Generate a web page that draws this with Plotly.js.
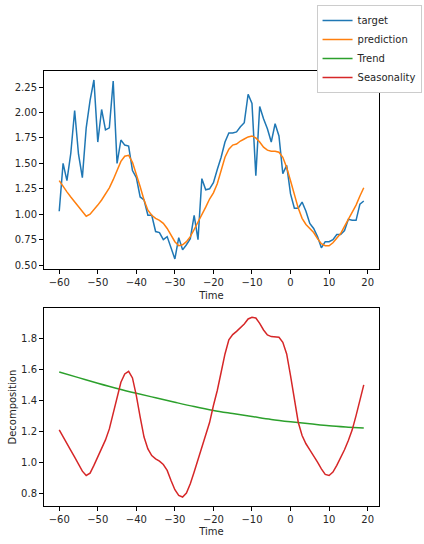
<!DOCTYPE html>
<html><head><meta charset="utf-8">
<script src="https://cdn.plot.ly/plotly-3.0.1.min.js"></script>
<style>html,body{margin:0;padding:0;background:#fff}#chart{width:424px;height:544px}</style>
</head><body><div id="chart"></div>
<script>
// time axis
const time = [];
for (let t = -60; t <= 19; t++) time.push(t);

const target = [1.03,1.50,1.33,1.60,2.02,1.59,1.36,1.85,2.12,2.32,1.71,2.03,1.83,1.85,2.31,1.50,1.73,1.68,1.67,1.43,
  1.36,1.17,1.14,0.99,0.99,0.83,0.82,0.75,0.78,0.68,0.56,0.77,0.65,0.70,0.76,0.99,0.75,1.35,1.24,1.25,
  1.31,1.44,1.56,1.71,1.80,1.80,1.81,1.86,1.90,2.18,2.09,1.38,2.06,1.94,1.84,1.71,1.89,1.77,1.40,1.48,
  1.20,1.06,1.06,1.12,1.03,0.91,0.86,0.78,0.67,0.73,0.73,0.75,0.80,0.80,0.84,0.95,0.94,0.94,1.10,1.13];

const prediction = [1.33,1.27,1.22,1.17,1.12,1.07,1.02,0.98,1.00,1.04,1.09,1.14,1.20,1.26,1.34,1.43,1.52,1.57,1.58,1.51,
  1.40,1.27,1.14,1.04,0.99,0.96,0.94,0.91,0.86,0.79,0.73,0.69,0.70,0.73,0.78,0.85,0.92,1.00,1.07,1.15,
  1.21,1.30,1.43,1.56,1.64,1.68,1.69,1.72,1.74,1.76,1.77,1.75,1.71,1.66,1.63,1.62,1.62,1.61,1.56,1.46,
  1.33,1.19,1.06,0.96,0.90,0.86,0.82,0.76,0.71,0.69,0.69,0.72,0.76,0.81,0.88,0.95,1.02,1.09,1.18,1.26];

const trendTime = [-60,-55,-50,-45,-40,-35,-30,-25,-20,-15,-10,-5,0,5,10,15,19];
const trend = [1.587,1.55,1.514,1.48,1.449,1.42,1.391,1.363,1.338,1.318,1.299,1.28,1.265,1.252,1.239,1.23,1.224];

const seasonality = [1.213,1.166,1.118,1.080,1.037,0.994,0.946,0.918,0.933,0.983,1.041,1.095,1.148,1.219,1.316,1.424,1.520,1.574,1.591,1.548,
  1.434,1.295,1.166,1.090,1.047,1.026,1.011,0.989,0.951,0.886,0.826,0.789,0.779,0.804,0.865,0.940,1.019,1.101,1.180,1.260,
  1.370,1.467,1.585,1.703,1.794,1.828,1.849,1.871,1.897,1.929,1.940,1.935,1.901,1.858,1.826,1.815,1.815,1.811,1.778,1.703,
  1.563,1.402,1.262,1.176,1.123,1.084,1.047,1.004,0.961,0.925,0.918,0.940,0.983,1.032,1.084,1.144,1.213,1.305,1.406,1.503];

const xTicks = [-60,-50,-40,-30,-20,-10,0,10,20];
const yTicksTop = [0.50,0.75,1.00,1.25,1.50,1.75,2.00,2.25];
const yTicksBottom = [0.8,1.0,1.2,1.4,1.6,1.8];

const traces = [
  {x: time, y: target, name: 'target', type: 'scatter', mode: 'lines', line: {color: '#1f77b4', width: 1.5}, xaxis: 'x', yaxis: 'y'},
  {x: time, y: prediction, name: 'prediction', type: 'scatter', mode: 'lines', line: {color: '#ff7f0e', width: 1.5}, xaxis: 'x', yaxis: 'y'},
  {x: trendTime, y: trend, name: 'Trend', type: 'scatter', mode: 'lines', line: {color: '#2ca02c', width: 1.5, shape: 'spline'}, xaxis: 'x2', yaxis: 'y2'},
  {x: time, y: seasonality, name: 'Seasonality', type: 'scatter', mode: 'lines', line: {color: '#d62728', width: 1.5}, xaxis: 'x2', yaxis: 'y2'}
];

const axBase = {
  showline: true, mirror: true, linecolor: '#000', linewidth: 1,
  ticks: 'outside', ticklen: 4, tickwidth: 1, tickcolor: '#000',
  showgrid: false, zeroline: false,
  tickfont: {size: 10, color: '#262626'}
};

const layout = {
  width: 424, height: 544,
  paper_bgcolor: '#fff', plot_bgcolor: '#fff',
  font: {family: 'DejaVu Sans', size: 10, color: '#262626'},
  margin: {l: 44, r: 44.7, t: 71, b: 38, autoexpand: false},
  showlegend: true,
  legend: {x: 1.127, y: 1.152, xanchor: 'right', yanchor: 'top',
    bgcolor: '#fff', bordercolor: '#cccccc', borderwidth: 1, itemwidth: 30,
    font: {size: 10, color: '#262626'}, tracegroupgap: 0},
  xaxis: Object.assign({}, axBase, {domain: [0,1], anchor: 'y', range: [-63.95, 22.95], tickmode: 'array', tickvals: xTicks,
    title: {text: 'Time', font: {size: 10, color: '#262626'}, standoff: 4}}),
  yaxis: Object.assign({}, axBase, {domain: [0.5448, 1], anchor: 'x', range: [0.4615, 2.4085], tickmode: 'array', tickvals: yTicksTop, tickformat: '.2f'}),
  xaxis2: Object.assign({}, axBase, {domain: [0,1], anchor: 'y2', range: [-63.95, 22.95], tickmode: 'array', tickvals: xTicks,
    title: {text: 'Time', font: {size: 10, color: '#262626'}, standoff: 3}}),
  yaxis2: Object.assign({}, axBase, {domain: [0, 0.4545], anchor: 'x2', range: [0.721, 1.998], tickmode: 'array', tickvals: yTicksBottom, tickformat: '.1f',
    title: {text: 'Decomposition', font: {size: 10, color: '#262626'}, standoff: 2}})
};

Plotly.newPlot('chart', traces, layout, {staticPlot: true, displayModeBar: false});
</script>
</body></html>
